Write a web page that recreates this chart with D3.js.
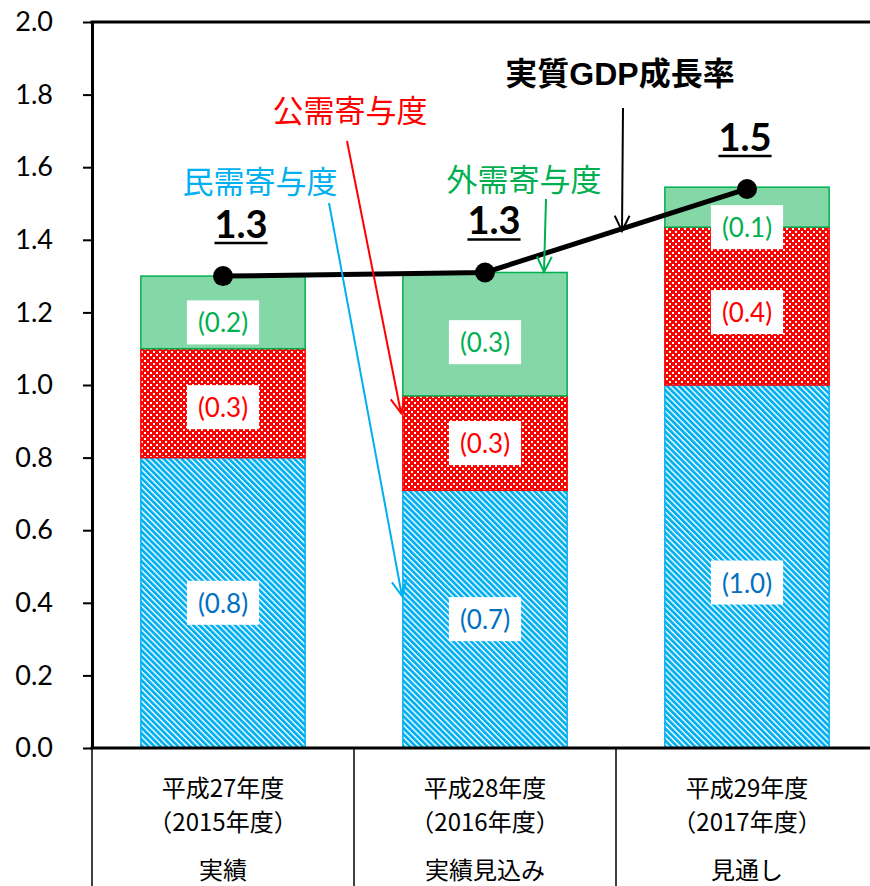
<!DOCTYPE html>
<html>
<head>
<meta charset="utf-8">
<script src="https://cdn.jsdelivr.net/npm/d3@7"></script>
<style>
  body { margin: 0; background: #fff; }
  svg { display: block; }
</style>
</head>
<body>
<svg id="chart" width="870" height="886"></svg>
<script>
// data
const categories = ['平成27年度', '平成28年度', '平成29年度'];
const yearLabels = ['（2015年度）', '（2016年度）', '（2017年度）'];
const statusLabels = ['実績', '実績見込み', '見通し'];
const privateDemand = [0.80, 0.71, 1.00];
const publicDemand = [0.30, 0.26, 0.435];
const externalDemand = [0.20, 0.34, 0.11];
const privateLabels = ['(0.8)', '(0.7)', '(1.0)'];
const publicLabels = ['(0.3)', '(0.3)', '(0.4)'];
const externalLabels = ['(0.2)', '(0.3)', '(0.1)'];
const gdpGrowth = [1.30, 1.31, 1.54];
const gdpLabels = ['1.3', '1.3', '1.5'];
const yTicks = [0, 0.2, 0.4, 0.6, 0.8, 1.0, 1.2, 1.4, 1.6, 1.8, 2.0];

const LATIN = "Lato, 'Noto Sans CJK JP', sans-serif";
const CJK = "'Noto Sans CJK JP', sans-serif";
const BLUE = '#00b0f0', RED = '#ff0000', GREEN = '#00b050';

const svg = d3.select('#chart');
const plotL = 92, plotR = 878, plotT = 22, plotB = 748;

const x = d3.scaleBand().domain(categories).range([plotL, plotR]).padding(0);
const y = d3.scaleLinear().domain([0, 2]).range([plotB, plotT]);
const barW = x.bandwidth() * 0.627;
const cx = c => x(c) + x.bandwidth() / 2;

// patterns
const defs = svg.append('defs');
const hatch = defs.append('pattern').attr('id', 'hatch')
  .attr('patternUnits', 'userSpaceOnUse').attr('width', 4.2).attr('height', 4.2)
  .attr('patternTransform', 'rotate(-45)');
hatch.append('rect').attr('width', 4.2).attr('height', 4.2).attr('fill', '#fff');
hatch.append('rect').attr('width', 2.8).attr('height', 4.2).attr('fill', BLUE);

// small checkerboard: red with white cells
const checker = defs.append('pattern').attr('id', 'checker')
  .attr('patternUnits', 'userSpaceOnUse').attr('width', 6).attr('height', 6);
checker.append('rect').attr('width', 6).attr('height', 6).attr('fill', RED)
  .attr('shape-rendering', 'crispEdges');
checker.append('rect').attr('x', 0).attr('y', 0).attr('width', 2).attr('height', 2)
  .attr('fill', '#fff').attr('shape-rendering', 'crispEdges');
checker.append('rect').attr('x', 3).attr('y', 3).attr('width', 2).attr('height', 2)
  .attr('fill', '#fff').attr('shape-rendering', 'crispEdges');

// stacked bars
const rows = categories.map((c, i) => ({
  cat: c, priv: privateDemand[i], pub: publicDemand[i], ext: externalDemand[i]
}));
const series = d3.stack().keys(['priv', 'pub', 'ext'])(rows);
const fills = { priv: 'url(#hatch)', pub: 'url(#checker)', ext: '#84d8a8' };
const strokes = { priv: BLUE, pub: RED, ext: GREEN };
const textCol = { priv: '#0070c0', pub: RED, ext: GREEN };
const labels = { priv: privateLabels, pub: publicLabels, ext: externalLabels };

series.forEach(s => {
  svg.append('g').selectAll('rect')
    .data(s)
    .join('rect')
    .attr('x', d => cx(d.data.cat) - barW / 2)
    .attr('y', d => y(d[1]))
    .attr('width', barW)
    .attr('height', d => y(d[0]) - y(d[1]))
    .attr('fill', fills[s.key])
    .attr('stroke', strokes[s.key])
    .attr('stroke-width', 1.5);
});

// data labels in white boxes
const labelNudge = { priv: [0, 0, 16], pub: [4, 0, 6], ext: [10, 8, 20] };
series.forEach(s => {
  s.forEach((d, i) => {
    const ly = (y(d[0]) + y(d[1])) / 2 + labelNudge[s.key][i];
    const g = svg.append('g');
    const t = g.append('text')
      .attr('x', cx(d.data.cat)).attr('y', ly)
      .attr('text-anchor', 'middle').attr('dominant-baseline', 'central')
      .attr('font-family', LATIN).attr('font-size', 26)
      .attr('fill', textCol[s.key])
      .text(labels[s.key][i]);
    const b = t.node().getBBox();
    g.insert('rect', 'text')
      .attr('x', b.x - 11).attr('y', ly - 22)
      .attr('width', b.width + 22).attr('height', 44)
      .attr('fill', '#fff');
  });
});

// axes & frame
const yAxis = d3.axisLeft(y).tickValues(yTicks).tickFormat(d3.format('.1f'))
  .tickSize(9).tickSizeOuter(0).tickPadding(30);
const ya = svg.append('g').attr('transform', `translate(${plotL},0)`).call(yAxis);
ya.select('.domain').attr('stroke', '#000').attr('stroke-width', 3);
ya.selectAll('.tick line').attr('stroke', '#000').attr('stroke-width', 2);
ya.selectAll('.tick text').attr('font-family', LATIN).attr('font-size', 27).attr('fill', '#000');

svg.append('line').attr('x1', plotL - 1.5).attr('x2', plotR).attr('y1', plotT).attr('y2', plotT)
  .attr('stroke', '#000').attr('stroke-width', 3);
svg.append('line').attr('x1', plotL - 1.5).attr('x2', plotR).attr('y1', plotB).attr('y2', plotB)
  .attr('stroke', '#000').attr('stroke-width', 3);

// category table below
const seps = categories.map(c => x(c)).concat([plotR]);
svg.append('g').selectAll('line').data(seps).join('line')
  .attr('x1', d => d).attr('x2', d => d)
  .attr('y1', plotB).attr('y2', 886)
  .attr('stroke', '#000').attr('stroke-width', 1.5);

const catText = (arr, yy) => svg.append('g').selectAll('text').data(arr).join('text')
  .attr('x', (d, i) => cx(categories[i])).attr('y', yy)
  .attr('text-anchor', 'middle').attr('dominant-baseline', 'central')
  .attr('font-family', CJK).attr('font-size', 24).attr('fill', '#000')
  .text(d => d);
catText(categories, 786);
catText(yearLabels, 820);
catText(statusLabels, 868);

// GDP line
const line = d3.line().x((d, i) => cx(categories[i])).y(d => y(d));
svg.append('path').datum(gdpGrowth).attr('d', line)
  .attr('fill', 'none').attr('stroke', '#000').attr('stroke-width', 5);
svg.append('g').selectAll('circle').data(gdpGrowth).join('circle')
  .attr('cx', (d, i) => cx(categories[i])).attr('cy', d => y(d))
  .attr('r', 10).attr('fill', '#000');

// GDP value labels, bold + underlined
const gdpShift = [18, 9, -2];
gdpGrowth.forEach((v, i) => {
  const tx = cx(categories[i]) + gdpShift[i];
  const ty = y(v) - 38;
  const t = svg.append('text').attr('x', tx).attr('y', ty)
    .attr('text-anchor', 'middle')
    .attr('font-family', LATIN).attr('font-size', 38).attr('font-weight', 'bold')
    .attr('fill', '#000').text(gdpLabels[i]);
  const b = t.node().getBBox();
  svg.append('line').attr('x1', b.x).attr('x2', b.x + b.width)
    .attr('y1', ty + 5).attr('y2', ty + 5)
    .attr('stroke', '#000').attr('stroke-width', 2.5);
});

// annotations with arrows
function arrow(x1, y1, x2, y2, col) {
  const a = Math.atan2(y2 - y1, x2 - x1), len = 17, sp = 0.45;
  const g = svg.append('g').attr('stroke', col).attr('stroke-width', 2).attr('fill', 'none');
  g.append('line').attr('x1', x1).attr('y1', y1).attr('x2', x2).attr('y2', y2);
  g.append('path').attr('d',
    `M${x2 - len * Math.cos(a - sp)},${y2 - len * Math.sin(a - sp)} L${x2},${y2} L${x2 - len * Math.cos(a + sp)},${y2 - len * Math.sin(a + sp)}`);
}
function note(txt, tx, ty, col, bold) {
  svg.append('text').attr('x', tx).attr('y', ty)
    .attr('text-anchor', 'middle').attr('dominant-baseline', 'central')
    .attr('font-family', bold ? "Arial, 'Liberation Sans', 'Noto Sans CJK JP', sans-serif" : CJK)
    .attr('font-weight', bold ? 'bold' : 'normal')
    .attr('font-size', bold ? 32 : 31).attr('fill', col).text(txt);
}
note('実質GDP成長率', 620, 74, '#000', true);
note('公需寄与度', 350, 108, RED, false);
note('民需寄与度', 260, 179, BLUE, false);
note('外需寄与度', 524, 177, GREEN, false);

arrow(623, 108, 622, 231, '#000');
arrow(347, 141, 401, 413, RED);
arrow(329, 203, 402, 596, BLUE);
arrow(546, 199, 544, 272, GREEN);
</script>
</body>
</html>
